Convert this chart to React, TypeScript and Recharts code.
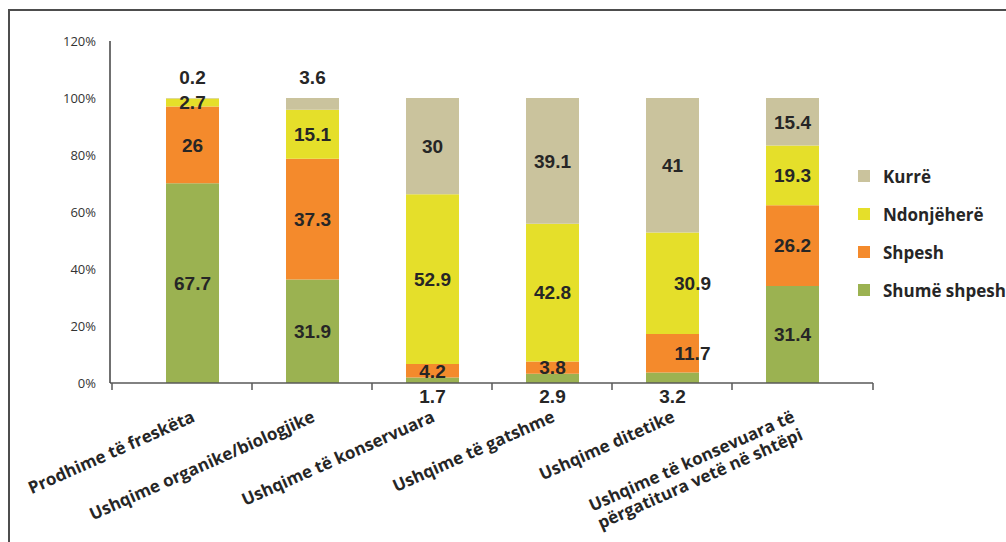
import React from 'react';
import { BarChart, Bar, XAxis, YAxis, LabelList, Legend } from 'recharts';

const categories = [
  'Prodhime të freskëta',
  'Ushqime organike/biologjike',
  'Ushqime të konservuara',
  'Ushqime të gatshme',
  'Ushqime ditetike',
  'Ushqime të konsevuara të\npërgatitura vetë në shtëpi',
];

const shumeShpesh = [67.7, 31.9, 1.7, 2.9, 3.2, 31.4];
const shpesh = [26, 37.3, 4.2, 3.8, 11.7, 26.2];
const ndonjehere = [2.7, 15.1, 52.9, 42.8, 30.9, 19.3];
const kurre = [0.2, 3.6, 30, 39.1, 41, 15.4];

const yTicks = [0, 0.2, 0.4, 0.6, 0.8, 1, 1.2];

const data = categories.map((name, i) => ({
  name,
  shumeShpesh: shumeShpesh[i],
  shpesh: shpesh[i],
  ndonjehere: ndonjehere[i],
  kurre: kurre[i],
}));

// bottom to top of each stack
const series = [
  { key: 'shumeShpesh', name: 'Shumë shpesh', color: '#9BB251' },
  { key: 'shpesh', name: 'Shpesh', color: '#F48A2C' },
  { key: 'ndonjehere', name: 'Ndonjëherë', color: '#E5DF2A' },
  { key: 'kurre', name: 'Kurrë', color: '#CAC39D' },
];

const BAND = 120;
const AXIS_FONT = '"Open Sans", sans-serif';
const VALUE_FONT = '"Liberation Sans", Arial, sans-serif';

// small sideways nudges for a few crowded labels
const labelNudge: Record<string, number> = {
  'shpesh-4': 20,
  'ndonjehere-4': 20,
};

const makeLabel = (key: string, pos: number) => (props: any) => {
  const { x, y, width, height, value, index } = props;
  const cx = x + width / 2 + (labelNudge[`${key}-${index}`] || 0);
  let cy = y + height / 2;
  if (height < 22 && pos === series.length - 1) cy = y - 21;
  else if (height < 22 && pos === 0) cy = y + height + 13;
  return (
    <text
      x={cx}
      y={cy}
      dy="0.36em"
      textAnchor="middle"
      fontFamily={VALUE_FONT}
      fontWeight="bold"
      fontSize={19}
      fill="#262626"
    >
      {value}
    </text>
  );
};

const CategoryTick = (props: any) => {
  const { x, y, payload, index } = props;
  const lines = String(payload.value).split('\n');
  const ax = x + 4;
  const ay = y + 38;
  const marks = [index === categories.length - 1 ? x + 81 : x + BAND / 2];
  if (index === 0) marks.push(x - 80);
  return (
    <g>
      {marks.map((mx) => (
        <line key={mx} x1={mx} x2={mx} y1={y} y2={y + 7} stroke="#595959" strokeWidth={1.5} />
      ))}
      <text
        x={ax}
        y={ay}
        textAnchor="end"
        transform={`rotate(-24 ${ax} ${ay})`}
        fontFamily={AXIS_FONT}
        fontWeight="bold"
        fontSize={17}
        fill="#262626"
      >
        {lines.map((line, i) => (
          <tspan key={i} x={ax} dy={i === 0 ? 0 : '1.15em'}>
            {line}
          </tspan>
        ))}
      </text>
    </g>
  );
};

const LegendBox = () => (
  <div style={{ fontFamily: AXIS_FONT, fontWeight: 'bold', fontSize: 17, color: '#262626' }}>
    {[...series].reverse().map((s) => (
      <div key={s.key} style={{ display: 'flex', alignItems: 'center', height: 38, whiteSpace: 'nowrap' }}>
        <span style={{ display: 'inline-block', width: 12, height: 12, background: s.color, marginRight: 13 }} />
        {s.name}
      </div>
    ))}
  </div>
);

export default function App() {
  return (
    <div style={{ position: 'absolute', left: 0, top: 0, width: 1006, height: 542, background: '#fff', overflow: 'hidden' }}>
      <div
        style={{
          position: 'absolute',
          left: 8,
          top: 9,
          width: 1100,
          height: 600,
          borderTop: '2px solid #4d4d4d',
          borderLeft: '2px solid #4d4d4d',
        }}
      />
      <div style={{ position: 'absolute', left: 0, top: 0 }}>
        <BarChart
          width={1006}
          height={542}
          data={data}
          stackOffset="expand"
          margin={{ top: 41, right: 133, bottom: 129, left: 50 }}
        >
          <XAxis
            dataKey="name"
            interval={0}
            height={30}
            padding={{ left: 22, right: 21 }}
            axisLine={{ stroke: '#595959', strokeWidth: 1.5 }}
            tickLine={false}
            tickSize={0}
            tickMargin={0}
            tick={<CategoryTick />}
          />
          {/* the stack is expanded to 0..1; the extra headroom up to 120% comes from top padding */}
          <YAxis
            width={60}
            padding={{ top: 57 }}
            ticks={yTicks}
            tickFormatter={(v: number) => `${Math.round(v * 100)}%`}
            axisLine={{ stroke: '#404040', strokeWidth: 1.5 }}
            tickLine={false}
            tickSize={0}
            tickMargin={14}
            tick={{ fontFamily: AXIS_FONT, fontSize: 13, fill: '#333' }}
          />
          <Legend
            layout="vertical"
            align="center"
            verticalAlign="middle"
            wrapperStyle={{ left: 858, top: 157, width: 180 }}
            content={<LegendBox />}
          />
          {series.map((s, pos) => (
            <Bar key={s.key} dataKey={s.key} name={s.name} stackId="a" fill={s.color} barSize={53} isAnimationActive={false}>
              <LabelList dataKey={s.key} content={makeLabel(s.key, pos)} />
            </Bar>
          ))}
        </BarChart>
      </div>
    </div>
  );
}
